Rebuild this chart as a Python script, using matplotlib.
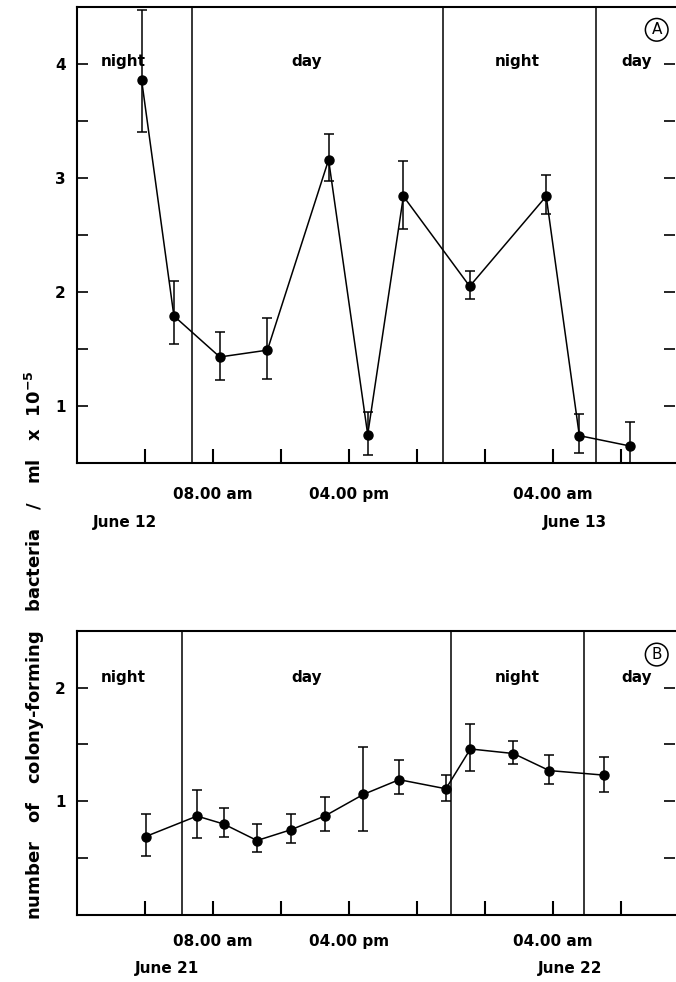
import matplotlib.pyplot as plt
import matplotlib.transforms as mtransforms
import numpy as np

plt.rcParams['font.family'] = 'DejaVu Sans'
plt.rcParams['font.weight'] = 'bold'

# Panel A: June 12-13, hours from midnight June 12
a_hours = [3.8, 5.7, 8.4, 11.2, 14.8, 17.1, 19.2, 23.1, 27.6, 29.55, 32.5]
a_vals = [3.86, 1.79, 1.43, 1.49, 3.16, 0.75, 2.84, 2.05, 2.84, 0.74, 0.65]
a_hi = [4.47, 2.10, 1.65, 1.77, 3.39, 0.95, 3.15, 2.18, 3.03, 0.93, 0.86]
a_lo = [3.40, 1.54, 1.23, 1.24, 2.97, 0.57, 2.55, 1.94, 2.68, 0.59, 0.50]
a_bounds = [6.75, 21.5, 30.5]

# Panel B: June 21-22, hours from midnight June 21
b_hours = [4.04, 7.06, 8.63, 10.59, 12.59, 14.57, 16.84, 18.95, 21.7, 23.14, 25.67, 27.78, 31.0]
b_vals = [0.69, 0.87, 0.80, 0.655, 0.75, 0.87, 1.06, 1.19, 1.11, 1.46, 1.42, 1.27, 1.23]
b_hi = [0.89, 1.10, 0.94, 0.80, 0.89, 1.035, 1.48, 1.36, 1.23, 1.68, 1.53, 1.41, 1.39]
b_lo = [0.52, 0.68, 0.69, 0.555, 0.63, 0.74, 0.74, 1.06, 1.00, 1.27, 1.33, 1.15, 1.08]
b_bounds = [6.2, 22.0, 29.8]

x_ticks = [4, 8, 12, 16, 20, 24, 28, 32]
x_ticklabels = ['', '08.00 am', '', '04.00 pm', '', '', '04.00 am', '']

phase_labels = ['night', 'day', 'night', 'day']
phase_pos = [2.7, 13.5, 25.9, 32.9]

fig = plt.figure(figsize=(6.76, 9.82), dpi=100)
axA = fig.add_axes([77 / 676, 519 / 982, 598.4 / 676, 456 / 982])
axB = fig.add_axes([77 / 676, 67 / 982, 598.4 / 676, 284.3 / 982])


def draw_panel(ax, hours, vals, hi, lo, bounds, ylim, yticks, letter, letter_y,
               phase_y, dates, date_pos, label_pad, date_off, label_shift):
    vals = np.array(vals)
    yerr = [vals - np.array(lo), np.array(hi) - vals]
    ax.errorbar(hours, vals, yerr=yerr, color='black', marker='o', markersize=6.5,
                linewidth=1.1, elinewidth=1.1, capsize=3.5, capthick=1.1)
    for b in bounds:
        ax.axvline(b, color='black', linewidth=1.1)
    ax.set_xlim(0, 35.2)
    ax.set_ylim(*ylim)
    ax.spines['right'].set_visible(False)
    for s in ['left', 'bottom', 'top']:
        ax.spines[s].set_linewidth(1.5)
    ax.set_xticks(x_ticks)
    ax.set_xticklabels(x_ticklabels, fontsize=11, fontweight='bold')
    # the typeset labels sit a little off their ticks in the original
    for lab, dx in zip(ax.get_xticklabels(), label_shift):
        off = mtransforms.ScaledTranslation(dx / 100, 0, fig.dpi_scale_trans)
        lab.set_transform(lab.get_transform() + off)
    ax.set_yticks(yticks)
    ax.set_yticklabels([str(int(t)) for t in yticks], fontsize=11, fontweight='bold')
    ax.set_yticks(np.arange(ylim[0], ylim[1] + 0.01, 0.5), minor=True)
    ax.tick_params(axis='x', direction='in', length=10, width=1.5, pad=label_pad)
    ax.tick_params(axis='y', which='both', direction='in', length=8, width=1.2,
                   right=True, pad=8)
    for lab, x in zip(phase_labels, phase_pos):
        ax.text(x, phase_y, lab, ha='center', va='center', fontsize=11, fontweight='bold')
    ax.text(34.1, letter_y, letter, ha='center', va='center', fontsize=11,
            fontweight='normal',
            bbox=dict(boxstyle='circle,pad=0.25', fc='white', ec='black', lw=1.1))
    for d, x in zip(dates, date_pos):
        ax.annotate(d, xy=(x, 0), xycoords=ax.get_xaxis_transform(),
                    xytext=(0, -date_off), textcoords='offset pixels',
                    ha='center', va='center', fontsize=11, fontweight='bold')


draw_panel(axA, a_hours, a_vals, a_hi, a_lo, a_bounds, (0.5, 4.5), [1, 2, 3, 4],
           'A', 4.3, 4.02, ['June 12', 'June 13'], [2.8, 29.3], 17, 60,
           [0, 12, 0, -14, 0, 0, 0, 0])
draw_panel(axB, b_hours, b_vals, b_hi, b_lo, b_bounds, (0, 2.5), [1, 2],
           'B', 2.29, 2.09, ['June 21', 'June 22'], [5.3, 29.0], 14, 54,
           [0, 11, 0, 12, 0, 0, 16, 0])

fig.text(35 / 676, 1 - 645 / 982,
         r'number   of   colony-forming   bacteria   /   ml   x  $\mathbf{10^{-5}}$',
         rotation=90, ha='center', va='center', fontsize=13, fontweight='bold')

plt.savefig('out.png', dpi=100)
